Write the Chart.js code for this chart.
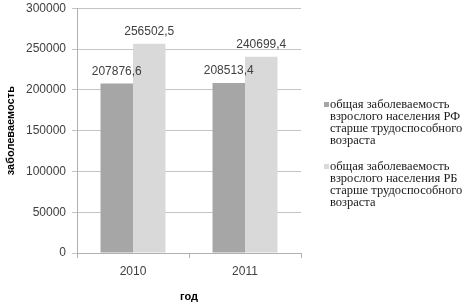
<!DOCTYPE html>
<html>
<head>
<meta charset="utf-8">
<script src="https://cdn.jsdelivr.net/npm/chart.js@4"></script>
<style>
  html, body { margin: 0; padding: 0; background: #fff; }
  #wrap { position: relative; width: 471px; height: 304px; }
  #legend { position: absolute; left: 324px; top: 98px; width: 147px;
            font: 12.5px "Liberation Serif", serif; color: #1a1a1a; line-height: 12px; }
  .item { position: relative; padding-left: 6px; margin-bottom: 14px; }
  .sw { position: absolute; left: 0; top: 4px; width: 5px; height: 5px; }
</style>
</head>
<body>
<div id="wrap">
  <canvas id="c" width="471" height="304"></canvas>
  <div id="legend"></div>
</div>
<script>
'use strict';

// данные
const years = ['2010', '2011'];
const rfValues = [207876.6, 208513.4];
const rbValues = [256502.5, 240699.4];
const yTicks = [0, 50000, 100000, 150000, 200000, 250000, 300000];
const seriesNames = [
    ['общая заболеваемость', 'взрослого населения РФ', 'старше трудоспособного', 'возраста'],
    ['общая заболеваемость', 'взрослого населения РБ', 'старше трудоспособного', 'возраста']
];
const colors = ['#a6a6a6', '#d9d9d9'];

// подписи значений над столбиками
const valueLabels = {
    id: 'valueLabels',
    afterDatasetsDraw(chart) {
        const ctx = chart.ctx;
        ctx.save();
        ctx.font = '12px "Liberation Sans", sans-serif';
        ctx.fillStyle = '#404040';
        ctx.textAlign = 'center';
        ctx.textBaseline = 'bottom';
        chart.data.datasets.forEach((ds, i) => {
            chart.getDatasetMeta(i).data.forEach((bar, j) => {
                const txt = ds.data[j].toFixed(1).replace('.', ',');
                ctx.fillText(txt, bar.x, bar.y - 6);
            });
        });
        ctx.restore();
    }
};

new Chart(document.getElementById('c'), {
    type: 'bar',
    data: {
        labels: years,
        datasets: [
            { label: seriesNames[0].join(' '), data: rfValues, backgroundColor: colors[0] },
            { label: seriesNames[1].join(' '), data: rbValues, backgroundColor: colors[1] }
        ]
    },
    options: {
        responsive: false,
        animation: false,
        layout: { padding: { top: 2, right: 170, left: 0, bottom: 0 } },
        datasets: { bar: { categoryPercentage: 0.58, barPercentage: 1 } },
        plugins: { legend: { display: false }, tooltip: { enabled: false } },
        scales: {
            x: {
                afterFit: s => { s.height = 51; },
                border: { color: '#b0b0b0' },
                grid: { offset: true, drawOnChartArea: false, tickLength: 5, color: '#b0b0b0' },
                ticks: { padding: 6, color: '#404040', font: { family: 'Liberation Sans', size: 12 } },
                title: { display: true, text: 'год', color: '#000', padding: { top: 10, bottom: 0 },
                         font: { family: 'Liberation Sans', size: 11, weight: 'bold' } }
            },
            y: {
                min: 0, max: 300000,
                afterFit: s => { s.width = 77; },
                afterBuildTicks: s => { s.ticks = yTicks.map(v => ({ value: v })); },
                border: { color: '#b0b0b0' },
                grid: { color: '#c4c4c4', tickLength: 5 },
                ticks: { padding: 6, color: '#404040',
                         font: { family: 'Liberation Sans', size: 12, lineHeight: 0.4 },
                         callback: v => String(v) },
                title: { display: true, text: 'заболеваемость', color: '#000', padding: { top: 4, bottom: 0 },
                         font: { family: 'Liberation Sans', size: 11, weight: 'bold' } }
            }
        }
    },
    plugins: [valueLabels]
});

// легенда справа
const legend = document.getElementById('legend');
seriesNames.forEach((lines, i) => {
    const item = document.createElement('div');
    item.className = 'item';
    const sw = document.createElement('span');
    sw.className = 'sw';
    sw.style.background = colors[i];
    item.appendChild(sw);
    lines.forEach((l, k) => {
        if (k) item.appendChild(document.createElement('br'));
        item.appendChild(document.createTextNode(l));
    });
    legend.appendChild(item);
});
</script>
</body>
</html>
